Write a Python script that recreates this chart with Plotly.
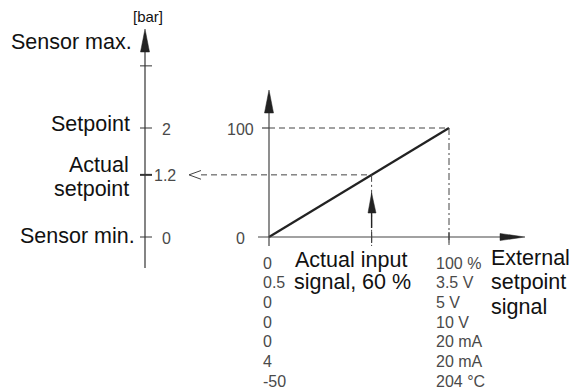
import plotly.graph_objects as go

# ---------------- data ----------------
input_pct = [0, 100]            # external setpoint signal, % of range
output_pct = [0, 100]           # resulting setpoint, % of setpoint
actual_input = 57               # drawn position of "actual input signal, 60 %"
actual_output = 57              # corresponding actual setpoint position
left_tick_pos = [157, 100, 57, 0]          # bar axis ticks (in % of setpoint)
left_tick_text = ["", "2", "1.2", "0"]
main_y_ticks = [0, 100]
main_y_text = ["0", "100"]
signal_min = ["0", "0.5", "0", "0", "0", "4", "-50"]
signal_max = ["100 %", "3.5 V", "5 V", "10 V", "20 mA", "20 mA", "204 °C"]

# ---------------- pixel helpers (layout only; page pixels) ----------------
PAGE_OFF = 8            # default body margin of the html page
X0, XS = 269.0, 1.8     # page px of x=0, px per unit
Y0, YS = 237.0, 1.09    # page px of y=0, px per unit


def X(px):
    return (px - X0) / XS


def Y(py):
    return (Y0 - py) / YS


FONT = "Liberation Sans, Arial, sans-serif"
AX = "#444444"
TXT = "#111111"
NUM = "#4a4a4a"
BIG = 21.5
SMALL = 16

fig = go.Figure()

# main transfer line
fig.add_trace(go.Scatter(x=input_pct, y=output_pct, mode="lines",
                         line=dict(color="#222222", width=2.2),
                         hoverinfo="skip", showlegend=False))

shapes = []


def line(x0, y0, x1, y1, color=AX, width=1, dash="solid"):
    shapes.append(dict(type="line", xref="x", yref="y", x0=x0, y0=y0, x1=x1, y1=y1,
                       line=dict(color=color, width=width, dash=dash)))


def tri(points, color="#222222"):
    path = "M " + " L ".join(f"{a},{b}" for a, b in points) + " Z"
    shapes.append(dict(type="path", xref="x", yref="y", path=path,
                       fillcolor=color, line=dict(color=color, width=0.5)))


# ---- left (bar) axis ----
LX = X(145)
line(LX, Y(50), LX, Y(268), color="#333333", width=1.2)
tri([(LX, Y(29)), (X(140.5), Y(52)), (X(149.5), Y(52))], color="#222222")
for v in left_tick_pos:
    w = 2 if v == actual_output else 1
    line(X(140), v, X(152), v, color="#333333", width=w)

# ---- main axes ----
line(0, Y(246), 0, Y(108), color=AX, width=1.2)
tri([(0, Y(90)), (X(264.5), Y(113)), (X(273.5), Y(113))], color="#222222")
line(X(258), 0, X(503), 0, color=AX, width=1.2)
tri([(X(525), 0), (X(500), Y(233.5)), (X(500), Y(240.5))], color="#222222")
line(X(262), 100, 0, 100, color=AX, width=1.2)
for v in [actual_input, 100]:
    line(v, Y(232), v, Y(243), color=AX, width=1.2)

# ---- dashed helper lines ----
line(0, 100, 100, 100, color=AX, width=1, dash="6px,4px")
line(100, 100, 100, Y(246), color=AX, width=1, dash="7px,3px,2px,3px")
line(X(201), actual_output, actual_input, actual_output, color=AX, width=1, dash="6px,4px")
line(actual_input, actual_output, actual_input, Y(246), color=AX, width=1, dash="7px,3px,2px,3px")
# open arrowhead "<" on the left end
shapes.append(dict(type="path", xref="x", yref="y",
                   path=f"M {X(201)},{actual_output + 4.0} L {X(189)},{actual_output} L {X(201)},{actual_output - 4.0}",
                   line=dict(color=AX, width=1)))
# input arrow
line(actual_input, Y(212), actual_input, Y(228), color="#222222", width=1.4)
tri([(actual_input, Y(193)), (X(368), Y(213)), (X(376), Y(213))], color="#222222")

fig.update_layout(shapes=shapes)

ann = []


def text(xpx, ypx, s, size, color=TXT, xa="left"):
    ann.append(dict(x=X(xpx), y=Y(ypx), xref="x", yref="y", text=s, showarrow=False,
                    xanchor=xa, yanchor="middle",
                    font=dict(family=FONT, size=size, color=color)))


# left labels
text(148, 16, "[bar]", 15, color=TXT, xa="center")
text(134, 42, "Sensor max.", BIG, xa="right")
text(132, 123.5, "Setpoint", BIG, xa="right")
text(131, 165, "Actual", BIG, xa="right")
text(131, 189, "setpoint", BIG, xa="right")
text(137, 235.5, "Sensor min.", BIG, xa="right")

left_tick_x = [0, 160, 152, 160]
for s, v, lx in zip(left_tick_text, left_tick_pos, left_tick_x):
    if s:
        text(lx, Y0 - v * YS + 1, s, SMALL, color=NUM)

# main y tick labels
main_y_right = [247, 256]
for s, v, rx in zip(main_y_text, main_y_ticks, main_y_right):
    text(rx, Y0 - v * YS + 1, s, SMALL, color=NUM, xa="right")

# bottom columns
ROW0, ROWH = 263, 19.7
for i, (a, b) in enumerate(zip(signal_min, signal_max)):
    yy = ROW0 + i * ROWH
    text(261, yy, a, SMALL, color=NUM)
    text(434, yy, b, SMALL, color=NUM)

text(293, 259.5, "Actual input", BIG)
text(292, 282, "signal, 60 %", BIG)
text(489, 257.5, "External", BIG)
text(489, 282, "setpoint", BIG)
text(489, 306.5, "signal", BIG)

fig.update_layout(annotations=ann)

fig.update_layout(
    width=580 - PAGE_OFF, height=391 - PAGE_OFF,
    margin=dict(l=0, r=0, t=0, b=0),
    paper_bgcolor="white", plot_bgcolor="white",
    xaxis=dict(range=[X(PAGE_OFF), X(580)], visible=False, fixedrange=True),
    yaxis=dict(range=[Y(391), Y(PAGE_OFF)], visible=False, fixedrange=True),
    showlegend=False,
)

fig.write_html("out.html")
